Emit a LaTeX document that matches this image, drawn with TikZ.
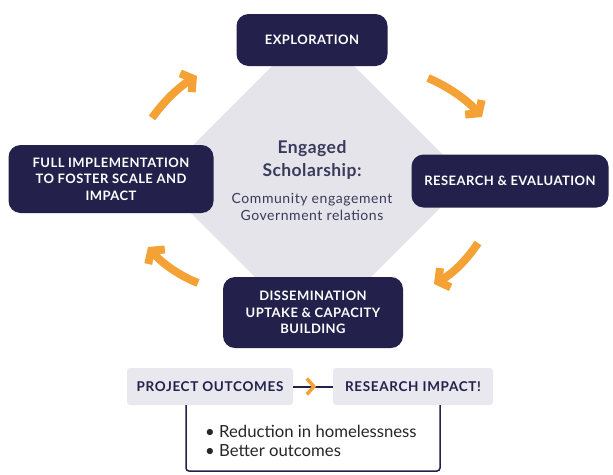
\documentclass[tikz,border=0pt]{standalone}
\usepackage{fontspec}
\setmainfont{Lato}
\newfontfamily\capsfont[LetterSpace=3.5]{Lato}
\newfontfamily\outfont[LetterSpace=5]{Lato}
\newfontfamily\subfont[LetterSpace=4]{Lato}
\newfontfamily\titlefont[LetterSpace=2.5]{Lato}
\usetikzlibrary{arrows.meta,decorations.markings}
\definecolor{navy}{HTML}{23214B}
\definecolor{orng}{HTML}{F4A235}
\definecolor{lgray}{HTML}{E8E8EE}
\definecolor{dgray}{HTML}{E4E4EA}
\definecolor{txt}{HTML}{3A3A5C}
\newcommand{\estitle}{\titlefont\bfseries\fontsize{17.5}{23}\selectfont}
\newcommand{\essub}{\subfont\mdseries\fontsize{14}{17}\selectfont}
\tikzset{
  stagebox/.style={fill=navy, rounded corners=12pt, text=white, font=\capsfont\bfseries\fontsize{13}{16.5}\selectfont, align=center, inner sep=0pt},
  outbox/.style={fill=lgray, rounded corners=3pt, text=navy, font=\outfont\bfseries\fontsize{13.5}{16}\selectfont, inner sep=0pt, minimum height=37pt},
  cyc/.style={draw=orng, line width=8pt, -{Straight Barb[length=8pt,width=22pt,line join=miter,line cap=butt]}},
}
\begin{document}
\begin{tikzpicture}[x=1pt,y=-1pt]
\useasboundingbox (0,0) rectangle (613,474);
% diamond
\fill[dgray, rounded corners=10pt] (313,25) -- (468,180) -- (313,335) -- (158,180) -- cycle;
% stage boxes
\node[stagebox, minimum width=151pt, minimum height=52pt] (exp) at (312,40) {EXPLORATION};
\node[stagebox, minimum width=205pt, minimum height=68pt] (fi) at (111,179) {FULL IMPLEMENTATION\\TO FOSTER SCALE AND\\IMPACT};
\node[stagebox, minimum width=197pt, minimum height=53pt] (re) at (510,181) {RESEARCH \& EVALUATION};
\node[stagebox, minimum width=180pt, minimum height=71pt] (dis) at (313,312.5) {DISSEMINATION\\UPTAKE \& CAPACITY\\BUILDING};
% centre text
\node[align=center, text=txt, inner sep=0pt, font=\fontsize{17}{23}\selectfont] (es) at (312,181) {\estitle Engaged\\\estitle Scholarship:\\[4pt]\essub Community engagement\\[-6pt]\essub Government relations};
% cycle arrows
\coordinate (a1s) at (152,118); \coordinate (a1e) at (197,76);
\coordinate (a2s) at (428,78); \coordinate (a2e) at (482,117);
\coordinate (a3s) at (478,243); \coordinate (a3e) at (434,284);
\coordinate (a4s) at (198,283); \coordinate (a4e) at (148,247);
\draw[cyc] (a1s) .. controls (164,101) and (179,87) .. (a1e);
\draw[cyc] (a2s) .. controls (449,87) and (467,100) .. (a2e);
\draw[cyc] (a3s) .. controls (466,261) and (452,274) .. (a3e);
\draw[cyc] (a4s) .. controls (178,275) and (162,263) .. (a4e);
% outcomes
\node[outbox, minimum width=166pt] (po) at (210,386.5) {PROJECT OUTCOMES};
\node[outbox, minimum width=160pt] (ri) at (413,386.5) {RESEARCH IMPACT!};
\draw[navy, line width=2pt, postaction={decorate}, decoration={markings, mark=at position 0.58 with {\arrow[orng, line width=3.5pt]{Straight Barb[length=7pt,width=16pt,line join=miter]}}}] (po.east) -- (ri.west);
\coordinate (bl) at (186,471);
\coordinate (br) at (440,471);
\draw[navy, line width=1.5pt, rounded corners=3pt] (po.south -| bl) -- (bl) -- (br) -- (ri.south -| br);
\node[anchor=west, align=left, inner sep=0pt, font=\fontsize{16.7}{19}\selectfont, text=black!85] (bul) at (205,441) {\textbullet\ Reduction in homelessness\\\textbullet\ Better outcomes};
\end{tikzpicture}
\end{document}
